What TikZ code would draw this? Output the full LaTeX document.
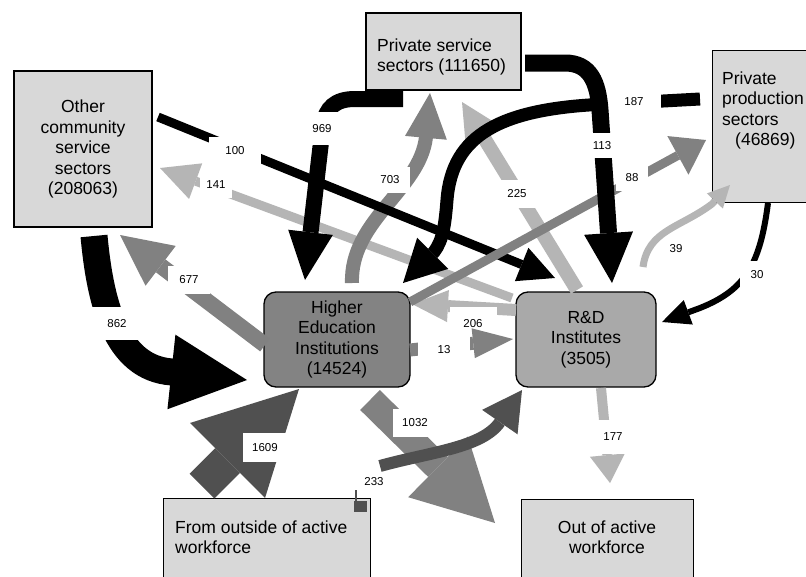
\documentclass[tikz,border=0pt]{standalone}
\usepackage{fontspec}
\setmainfont{Liberation Sans}
\usetikzlibrary{arrows.meta}
\definecolor{boxgray}{HTML}{D8D8D8}
\definecolor{heigray}{HTML}{838383}
\definecolor{rdgray}{HTML}{A9A9A9}
\definecolor{lgray}{HTML}{B5B5B5}
\definecolor{mgray}{HTML}{818181}
\definecolor{dgray}{HTML}{505050}
\tikzset{
  box/.style={draw=black, line width=1.3pt, fill=boxgray, inner sep=0pt},
  rbox/.style={box, rounded corners=12pt},
  btext/.style={font=\fontsize{17.5}{20.5}\selectfont, align=center, inner sep=0pt},
  lbl/.style={fill=white, inner sep=0pt, font=\fontsize{11.5}{12}\selectfont},
  hd/.style 2 args={-{Triangle[width=#1,length=#2,line width=0pt]}},
}
\begin{document}
\begin{tikzpicture}[x=1pt,y=-1pt]
\useasboundingbox (0,0) rectangle (806,576);
\fill[white] (0,0) rectangle (806,576);
% ---------- boxes
\node[box, btext, minimum width=138pt, minimum height=156pt] (oth) at (83,149) {Other\\community\\service\\sectors\\(208063)};
\node[box, minimum width=155pt, minimum height=77pt] (ps) at (443.5,51.5) {};
\node[btext, align=left, anchor=north west] (pst) at (377,38.5) {Private service\\sectors (111650)};
\node[box, minimum width=130pt, minimum height=152pt, anchor=north west] (pp) at (712,50) {};
\node[btext, align=left, anchor=north west] (ppt) at (722,71.5) {Private\\production\\sectors\\\hspace*{13pt}(46869)};
\node[rbox, btext, fill=heigray, minimum width=146pt, minimum height=95pt] (hei) at (337,339.5) {Higher\\Education\\Institutions\\(14524)};
\node[rbox, btext, fill=rdgray, minimum width=140pt, minimum height=95pt] (rd) at (586,339.5) {R\&D\\Institutes\\(3505)};
\node[box, minimum width=207pt, minimum height=110pt, anchor=north west] (fo) at (163,498) {};
\node[btext, align=left, anchor=north west] (fot) at (175,520.5) {From outside of active\\workforce};
\node[box, minimum width=172pt, minimum height=110pt, anchor=north west] (oa) at (521,499) {};
\node[btext, anchor=north] (oat) at (607,520.5) {Out of active\\workforce};
\fill[dgray] (354,501) rectangle (367,512);
\draw[dgray, line width=1.2pt] (356,490) -- (356,501);
% ---------- connector end points
\coordinate (s141) at (512,298); \coordinate (e141) at (160,168);
\coordinate (s225) at (577,290); \coordinate (e225) at (462,102);
\coordinate (s206) at (516,310); \coordinate (e206) at (412,304);
\coordinate (s177) at (601,388); \coordinate (e177) at (610,483);
\coordinate (s39) at (643,267);  \coordinate (e39) at (730,185);
\coordinate (s703) at (352,283); \coordinate (e703) at (430,93);
\coordinate (s677) at (265,345); \coordinate (e677) at (120,235);
\coordinate (s13) at (410,350);  \coordinate (e13) at (513,339);
\coordinate (s1032) at (370,400); \coordinate (e1032) at (495,523);
\coordinate (s1609) at (202,486); \coordinate (e1609) at (299,389);
\coordinate (s862) at (94,236);  \coordinate (e862) at (247,380);
\coordinate (s969) at (403,99);  \coordinate (e969) at (305,280);
\coordinate (s187) at (700,99);  \coordinate (e187) at (403,283);
\coordinate (s100) at (158,117); \coordinate (e100) at (555,278);
\coordinate (s88) at (410,302);  \coordinate (e88) at (706,140);
\coordinate (s113) at (525,63);  \coordinate (e113) at (612,283);
\coordinate (s30) at (768,203);  \coordinate (e30) at (662,322);
\coordinate (s233) at (380,466); \coordinate (e233) at (522,390);
% ---------- light grey flows
\draw[lgray, line width=9pt, hd={38pt}{38pt}] (s141) -- (e141);
\node[lbl, minimum width=32pt, minimum height=26pt] (l141) at (216,185) {141};
\draw[lgray, line width=14pt, hd={40pt}{40pt}] (s225) -- (e225);
\node[lbl, minimum width=38pt, minimum height=28pt] (l225) at (517,194) {225};
\draw[lgray, line width=12pt, hd={32pt}{36pt}] (s206) -- (e206);
\node[lbl, minimum width=47pt, minimum height=33pt] (l206) at (473,323.5) {206};
\draw[lgray, line width=10pt, hd={35pt}{28pt}] (s177) -- (e177);
\node[lbl, minimum width=30pt, minimum height=34pt] (l177) at (613,437) {177};
\draw[lgray, line width=7pt, hd={22pt}{22pt}] (s39) .. controls (648,230) and (680,228) .. (712,204) -- (e39);
\node[lbl, minimum width=20pt, minimum height=15pt] (l39) at (676,249) {39};
% ---------- medium grey flows
\draw[mgray, line width=14pt, hd={42pt}{45pt}] (s703) .. controls (350,220) and (420,190) .. (426,137) -- (e703);
\node[lbl, minimum width=40pt, minimum height=26pt] (l703) at (390,180) {703};
\draw[mgray, line width=16pt, hd={50pt}{51pt}] (s677) -- (e677);
\node[lbl, minimum width=42pt, minimum height=28pt] (l677) at (189,280) {677};
\draw[mgray, line width=13pt, hd={30pt}{40pt}] (s13) -- (e13);
\node[lbl, minimum width=52pt, minimum height=30pt] (l13) at (444,350) {13};
\draw[mgray, line width=28pt, hd={85pt}{80pt}] (s1032) -- (e1032);
\node[lbl, minimum width=44pt, minimum height=28pt] (l1032) at (415,423) {1032};
% ---------- dark grey
\draw[dgray, line width=35pt, hd={106pt}{101pt}] (s1609) -- (e1609);
\node[lbl, minimum width=44pt, minimum height=29pt] (l1609) at (265,447.5) {1609};
% ---------- black flows
\draw[black, line width=27pt, hd={75pt}{76pt}] (s862) .. controls (100,300) and (115,368) .. (172,372) -- (e862);
\node[lbl, minimum width=55pt, minimum height=33pt] (l862) at (117,323.5) {862};
\draw[black, line width=16pt, hd={45pt}{48pt}] (s969) -- (355,99) .. controls (335,99) and (326,108) .. (323,125) -- (e969);
\node[lbl, minimum width=46pt, minimum height=33pt] (l969) at (322,128.5) {969};
\draw[black, line width=13pt, hd={44pt}{42pt}] (s187) -- (608,104) .. controls (500,108) and (452,135) .. (447,200) .. controls (445,225) and (443,240) .. (434,252) -- (e187);
\node[lbl, minimum width=54pt, minimum height=28pt] (l187) at (634,102) {187};
\draw[black, line width=9pt, hd={36pt}{36pt}] (s100) -- (e100);
\node[lbl, minimum width=52pt, minimum height=28pt] (l100) at (235,151) {100};
\draw[mgray, line width=9pt, hd={44pt}{32pt}] (s88) -- (e88);
\node[lbl, minimum width=32pt, minimum height=26pt] (l88) at (632,178) {88};
\draw[black, line width=17pt, hd={49pt}{50pt}] (s113) -- (565,63) .. controls (590,63) and (598,82) .. (600,110) -- (e113);
\node[lbl, minimum width=34pt, minimum height=25pt] (l113) at (602,145.5) {113};
\draw[black, line width=6pt, hd={26pt}{28pt}] (s30) .. controls (760,265) and (745,290) .. (700,308) -- (e30);
\node[lbl, minimum width=34pt, minimum height=28pt] (l30) at (757,275) {30};
% ---------- dark grey curve
\draw[dgray, line width=12pt, hd={43pt}{39pt}] (s233) .. controls (430,452) and (482,448) .. (e233);
\node[lbl, minimum width=22pt, minimum height=15pt] (l233) at (374,482) {233};
\end{tikzpicture}
\end{document}
